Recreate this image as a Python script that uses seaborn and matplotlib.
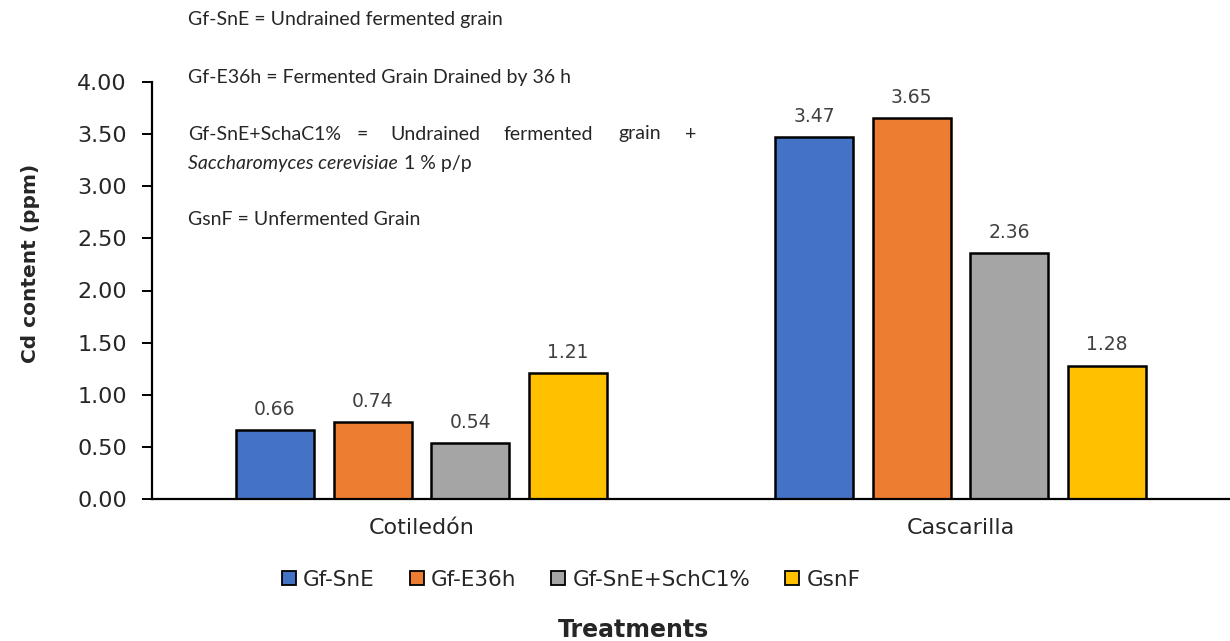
import matplotlib
matplotlib.use("Agg")

import matplotlib.pyplot as plt
from matplotlib.lines import Line2D
import pandas as pd
import seaborn as sns

# Datos
tissues = ["Cotiledón", "Cascarilla"]
treatments = ["Gf-SnE", "Gf-E36h", "Gf-SnE+SchC1%", "GsnF"]
cotiledon = [0.66, 0.74, 0.54, 1.21]
cascarilla = [3.47, 3.65, 2.36, 1.28]
colors = ["#4472C4", "#ED7D31", "#A5A5A5", "#FFC000"]
yticks = [0.0, 0.5, 1.0, 1.5, 2.0, 2.5, 3.0, 3.5, 4.0]

df = pd.DataFrame({
    "tissue": [tissues[0]] * 4 + [tissues[1]] * 4,
    "treatment": treatments * 2,
    "cd": cotiledon + cascarilla,
})

sns.set_style("white")
plt.rcParams["font.family"] = ["DejaVu Sans"]

fig = plt.figure(figsize=(12.3, 6.41), dpi=100)
ax = fig.add_axes([152 / 1230, 142 / 641, 1 - 152 / 1230, 417 / 641])

sns.barplot(data=df, x="tissue", y="cd", hue="treatment", order=tissues,
            hue_order=treatments, palette=colors, saturation=1, edgecolor="black",
            linewidth=1.8, width=0.725, gap=0.2, legend=False, ax=ax)

# Etiquetas de valores
for cont in ax.containers:
    ax.bar_label(cont, fmt="%.2f", padding=8, fontsize=13.5, color="#404040")

ax.set_ylim(0, 4)
ax.set_xlim(-0.5, 1.5)
ax.set_yticks(yticks)
ax.set_yticklabels([f"{v:.2f}" for v in yticks], fontsize=16)
ax.set_xticks([0, 1])
ax.set_xticklabels(tissues, fontsize=16)
ax.set_xticks([-0.5, 0.5, 1.5], minor=True)
ax.tick_params(axis="x", which="major", length=0, pad=14)
ax.tick_params(axis="x", which="minor", length=7, width=1.4, direction="out", color="black")
ax.tick_params(axis="y", length=7, width=1.4, direction="out", color="black", left=True, pad=11)
ax.set_xlabel("")
ax.set_ylabel("Cd content (ppm)", fontsize=14.5, fontweight="bold")
ax.yaxis.set_label_coords(-0.104, 0.566)

for s in ["top", "right"]:
    ax.spines[s].set_visible(False)
for s in ["left", "bottom"]:
    ax.spines[s].set_color("black")
    ax.spines[s].set_linewidth(1.6)

# Leyenda
handles = [Line2D([0], [0], marker="s", linestyle="", markersize=10.5,
                  markerfacecolor=c, markeredgecolor="black", markeredgewidth=1.3)
           for c in colors]
fig.legend(handles, treatments, loc="center", bbox_to_anchor=(571 / 1230, 1 - 580 / 641),
           ncol=4, frameon=False, fontsize=15.5, handlelength=0.7,
           handletextpad=0.3, columnspacing=1.6)

fig.text(633 / 1230, 1 - 630 / 641, "Treatments", ha="center", va="center",
         fontsize=17, fontweight="bold")

# Notas de abreviaturas
note_font = ["Lato", "DejaVu Sans"]
def px(x, y):
    return x / 1230, 1 - y / 641

fs = 14
fig.text(*px(188, 20), "Gf-SnE = Undrained fermented grain", fontsize=fs,
         family=note_font, va="center")
fig.text(*px(188, 77), "Gf-E36h = Fermented Grain Drained by 36 h", fontsize=fs,
         family=note_font, va="center")
for word, xw in [("Gf-SnE+SchaC1%", 188), ("=", 357), ("Undrained", 390),
                 ("fermented", 503), ("grain", 618), ("+", 685)]:
    fig.text(*px(xw, 134), word, fontsize=fs, family=note_font, va="center")
t_it = fig.text(*px(188, 163), "Saccharomyces cerevisiae", fontsize=fs,
                family=note_font, style="italic", va="center")
fig.canvas.draw()
bb = t_it.get_window_extent()
fig.text((bb.x1 + 6) / 1230, 1 - 163 / 641, "1 % p/p", fontsize=fs,
         family=note_font, va="center")
fig.text(*px(188, 220), "GsnF = Unfermented Grain", fontsize=fs,
         family=note_font, va="center")

fig.savefig("out.png", dpi=100)
